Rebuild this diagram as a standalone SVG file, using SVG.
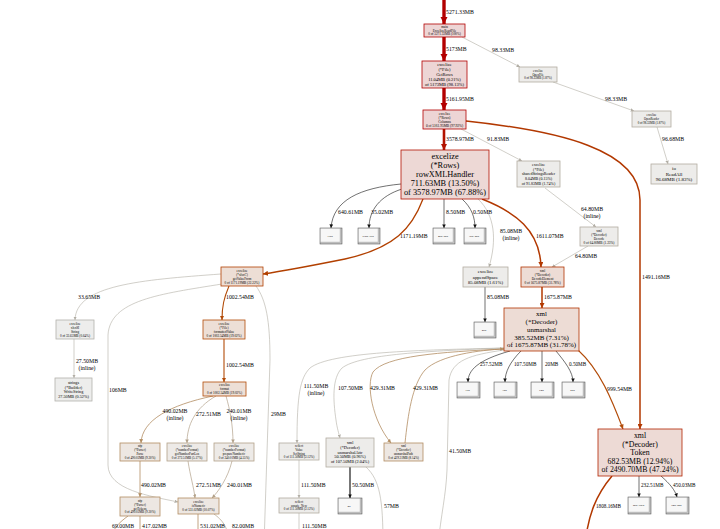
<svg xmlns="http://www.w3.org/2000/svg" width="720" height="529" viewBox="0 0 720 529">
<style>
text{font-family:"Liberation Serif","Times New Roman",serif;fill:#000}
.n text{text-anchor:middle}
.n rect{stroke-width:0.8}
.h0 rect{fill:#edd5d5;stroke:#b20000}
.h1 rect{fill:#edd8d5;stroke:#b21300}
.h2 rect{fill:#eddad5;stroke:#b22300}
.h3 rect{fill:#eddcd5;stroke:#b23400}
.h4 rect{fill:#edded5;stroke:#b24000}
.h5 rect{fill:#eddfd6;stroke:#b24b08}
.h6 rect{fill:#ede7e2;stroke:#b28d62}
.h7 rect{fill:#edeae7;stroke:#b2a189}
.h8 rect{fill:#edecea;stroke:#b2aca0}
.h9 rect{fill:#ededec;stroke:#b2b1ac}
.cube .o{fill:#c4c4c4;stroke:#444;stroke-width:0.5}
.cube .f{fill:#f7f7f7;stroke:#999;stroke-width:0.3}
.cube text{font-size:2.6px;text-anchor:middle}
.e path{fill:none}
.e0{stroke:#b20000;stroke-width:3.4;marker-end:url(#m0)}
.e1{stroke:#b21300;stroke-width:2.6;marker-end:url(#m1)}
.e2{stroke:#b23800;stroke-width:1.5;marker-end:url(#m2)}
.e3{stroke:#b24000;stroke-width:1.3;marker-end:url(#m3)}
.e4{stroke:#b24b08;stroke-width:1.1;marker-end:url(#m4)}
.e5{stroke:#b28d62;stroke-width:0.8;marker-end:url(#m5)}
.e6{stroke:#b2a189;stroke-width:0.7;marker-end:url(#m6)}
.e7{stroke:#b2aea5;stroke-width:0.6;marker-end:url(#m7)}
.e8{stroke:#111;stroke-width:0.6;marker-end:url(#m8)}
.e9{stroke:#777;stroke-width:2;marker-end:url(#m8)}
.l{font-size:5.8px}
.ls{font-size:5.2px}
.lc{text-anchor:middle}
</style>
<defs>
<marker id="m0" viewBox="0 0 10 10" refX="10" refY="5" markerWidth="7.5" markerHeight="7.5" markerUnits="userSpaceOnUse" orient="auto"><path d="M0,0L10,5L0,10z" fill="#b20000"/></marker>
<marker id="m1" viewBox="0 0 10 10" refX="10" refY="5" markerWidth="6.5" markerHeight="6.5" markerUnits="userSpaceOnUse" orient="auto"><path d="M0,0L10,5L0,10z" fill="#b21300"/></marker>
<marker id="m2" viewBox="0 0 10 10" refX="10" refY="5" markerWidth="5" markerHeight="5" markerUnits="userSpaceOnUse" orient="auto"><path d="M0,0L10,5L0,10z" fill="#b23800"/></marker>
<marker id="m3" viewBox="0 0 10 10" refX="10" refY="5" markerWidth="5" markerHeight="5" markerUnits="userSpaceOnUse" orient="auto"><path d="M0,0L10,5L0,10z" fill="#b24000"/></marker>
<marker id="m4" viewBox="0 0 10 10" refX="10" refY="5" markerWidth="4.5" markerHeight="4.5" markerUnits="userSpaceOnUse" orient="auto"><path d="M0,0L10,5L0,10z" fill="#b24b08"/></marker>
<marker id="m5" viewBox="0 0 10 10" refX="10" refY="5" markerWidth="3.8" markerHeight="3.8" markerUnits="userSpaceOnUse" orient="auto"><path d="M0,0L10,5L0,10z" fill="#b28d62"/></marker>
<marker id="m6" viewBox="0 0 10 10" refX="10" refY="5" markerWidth="3.6" markerHeight="3.6" markerUnits="userSpaceOnUse" orient="auto"><path d="M0,0L10,5L0,10z" fill="#b2a189"/></marker>
<marker id="m7" viewBox="0 0 10 10" refX="10" refY="5" markerWidth="3.4" markerHeight="3.4" markerUnits="userSpaceOnUse" orient="auto"><path d="M0,0L10,5L0,10z" fill="#b2aea5"/></marker>
<marker id="m8" viewBox="0 0 10 10" refX="10" refY="5" markerWidth="3.6" markerHeight="3.6" markerUnits="userSpaceOnUse" orient="auto"><path d="M0,0L10,5L0,10z" fill="#111"/></marker>
</defs>
<rect width="720" height="529" fill="#fff"/>

<g id="connectors" class="e">
<path class="e0" d="M444,-2V24"/>
<path class="e0" d="M444,37V61"/>
<path class="e0" d="M444,88V110"/>
<path class="e1" d="M444,129V150"/>
<path class="e7" d="M462,37L520,67"/>
<path class="e7" d="M553,82L634,111"/>
<path class="e7" d="M657,127L668,164"/>
<path class="e7" d="M461,129L522,161"/>
<path class="e2" d="M466,121C560,131 640,150 640,200L640,429"/>
<path class="e7" d="M545,188L596,227"/>
<path class="e7" d="M588,246L552,267"/>
<path class="e2" d="M482,199C515,212 540,230 541,267"/>
<path class="e7" d="M478,199C495,215 497,240 489,267"/>
<path class="e8" d="M485,287V322"/>
<path class="e2" d="M542,287V308"/>
<path class="e8" d="M401,184C360,188 333,200 331,228"/>
<path class="e8" d="M402,189C380,196 369,210 369,228"/>
<path class="e8" d="M444,199V228"/>
<path class="e8" d="M462,199C472,208 475,218 475,228"/>
<path class="e3" d="M423,199C412,228 395,248 345,259C310,266 290,270 263,274"/>
<path class="e4" d="M229,286C224,298 222,306 222,320"/>
<path class="e4" d="M224,339V382"/>
<path class="e7" d="M221,274C140,280 76,285 75,320"/>
<path class="e7" d="M74,339V378"/>
<path class="e7" d="M222,284C160,294 110,300 108,335L108,465C108,490 150,496 178,502"/>
<path class="e7" d="M256,286C266,300 270,320 270,360L264,545"/>
<path class="e5" d="M213,396C170,405 142,420 141,443"/>
<path class="e6" d="M216,396C195,408 187,425 187,443"/>
<path class="e6" d="M226,396C230,410 233,425 233,443"/>
<path class="e5" d="M140,461V497"/>
<path class="e6" d="M188,461C190,475 194,488 195,498"/>
<path class="e6" d="M232,461C228,478 218,492 212,498"/>
<path class="e5" d="M128,516C120,522 112,528 108,545"/>
<path class="e5" d="M140,516V545"/>
<path class="e5" d="M198,514V545"/>
<path class="e6" d="M214,514C222,520 228,526 230,545"/>
<path class="e7" d="M504,348C420,350 330,352 310,368C300,378 297,395 297,443"/>
<path class="e7" d="M504,348C430,351 360,354 342,368C332,378 333,400 336,420C337,428 339,434 340,438"/>
<path class="e5" d="M504,349C440,352 385,356 373,372C366,385 372,420 391,443"/>
<path class="e5" d="M405,443C408,415 412,385 425,370C440,355 480,350 504,349"/>
<path class="e7" d="M504,350C470,355 452,360 449,380L447,470C446,495 441,515 438,545"/>
<path class="e7" d="M299,460V498"/>
<path class="e9" d="M350,467V498"/>
<path class="e7" d="M366,467C380,480 383,500 383,545"/>
<path class="e7" d="M299,513V545"/>
<path class="e8" d="M510,351C478,360 468,370 468,382"/>
<path class="e8" d="M521,351C510,362 505,372 505,382"/>
<path class="e8" d="M542,351V382"/>
<path class="e8" d="M556,351C565,362 573,372 573,382"/>
<path class="e4" d="M578,350C600,370 612,400 623,429"/>
<path class="e8" d="M639,476V497"/>
<path class="e8" d="M661,476C670,484 675,490 677,497"/>
<path class="e2" d="M612,476C596,495 588,515 585,545"/>

<text class="l" x="446" y="14">5271.33MB</text>
<text class="l" x="446" y="51">5173MB</text>
<text class="l" x="446" y="101">5161.95MB</text>
<text class="l" x="446" y="141">3578.97MB</text>
<text class="l" x="492" y="52">98.33MB</text>
<text class="l" x="605" y="101">98.33MB</text>
<text class="l" x="662" y="141">96.68MB</text>
<text class="l" x="487" y="141">91.83MB</text>
<text class="l" x="642" y="279">1491.16MB</text>
<text class="l lc" x="592" y="211">64.80MB</text>
<text class="l lc" x="592" y="218">(inline)</text>
<text class="l" x="575" y="258">64.80MB</text>
<text class="l" x="536" y="238">1611.07MB</text>
<text class="l lc" x="511" y="233">85.08MB</text>
<text class="l lc" x="511" y="240">(inline)</text>
<text class="l" x="487" y="299">85.08MB</text>
<text class="l" x="544" y="299">1675.87MB</text>
<text class="l" x="338" y="214">640.61MB</text>
<text class="l" x="371" y="214">35.02MB</text>
<text class="l" x="446" y="214">8.50MB</text>
<text class="l" x="473" y="214">0.50MB</text>
<text class="l" x="400" y="238">1171.19MB</text>
<text class="l" x="226" y="299">1002.54MB</text>
<text class="l" x="226" y="367">1002.54MB</text>
<text class="l" x="78" y="299">33.65MB</text>
<text class="l lc" x="87" y="363">27.50MB</text>
<text class="l lc" x="87" y="370">(inline)</text>
<text class="l" x="109" y="392">106MB</text>
<text class="l" x="271" y="416">29MB</text>
<text class="l lc" x="175" y="413">490.02MB</text>
<text class="l lc" x="175" y="420">(inline)</text>
<text class="l" x="196" y="416">272.51MB</text>
<text class="l lc" x="239" y="413">240.01MB</text>
<text class="l lc" x="239" y="420">(inline)</text>
<text class="l" x="141" y="487">490.02MB</text>
<text class="l" x="196" y="487">272.51MB</text>
<text class="l" x="227" y="487">240.01MB</text>
<text class="l" x="112" y="528">69.00MB</text>
<text class="l" x="142" y="528">417.02MB</text>
<text class="l" x="200" y="528">531.02MB</text>
<text class="l" x="232" y="528">82.00MB</text>
<text class="l lc" x="316" y="388">111.50MB</text>
<text class="l lc" x="316" y="395">(inline)</text>
<text class="l" x="338" y="390">107.50MB</text>
<text class="l" x="370" y="390">429.31MB</text>
<text class="l" x="413" y="390">429.31MB</text>
<text class="l" x="449" y="453">41.50MB</text>
<text class="l" x="301" y="487">111.50MB</text>
<text class="l" x="352" y="487">50.50MB</text>
<text class="l" x="384" y="508">57MB</text>
<text class="l" x="302" y="528">111.50MB</text>
<text class="ls" x="480" y="366">257.52MB</text>
<text class="ls" x="514" y="366">107.50MB</text>
<text class="ls" x="545" y="366">20MB</text>
<text class="ls" x="569" y="366">0.50MB</text>
<text class="l" x="607" y="391">999.54MB</text>
<text class="ls" x="641" y="487">232.51MB</text>
<text class="ls" x="673" y="487">450.03MB</text>
<text class="ls" x="596" y="508">1808.16MB</text>
</g>

<g id="n-main" class="n h0" font-size="3.3"><rect x="424" y="24" width="41" height="13"/><text x="444.5" y="27.9">main</text><text x="444.5" y="31.6">ExcelizeReadFile</text><text x="444.5" y="35.3">0 of 5271.33MB (100%)</text></g>
<g id="n-getrows" class="n h0" font-size="4.5"><rect x="422" y="61" width="45" height="27"/><text x="444.5" y="66.2">excelize</text><text x="444.5" y="71.1">(*File)</text><text x="444.5" y="76">GetRows</text><text x="444.5" y="80.9">11.04MB (0.21%)</text><text x="444.5" y="85.8">of 5173MB (98.13%)</text></g>
<g id="n-columns" class="n h0" font-size="3.5"><rect x="423" y="110" width="43" height="19"/><text x="444.5" y="114.8">excelize</text><text x="444.5" y="118.7">(*Rows)</text><text x="444.5" y="122.6">Columns</text><text x="444.5" y="126.5">0 of 5161.95MB (97.92%)</text></g>
<g id="n-openfile" class="n h8" font-size="3"><rect x="519" y="67" width="38" height="15"/><text x="538" y="71.9">excelize</text><text x="538" y="75.6">OpenFile</text><text x="538" y="79.3">0 of 98.33MB (1.87%)</text></g>
<g id="n-openreader" class="n h8" font-size="3"><rect x="632" y="111" width="39" height="16"/><text x="651.5" y="116.4">excelize</text><text x="651.5" y="120.1">OpenReader</text><text x="651.5" y="123.8">0 of 98.33MB (1.87%)</text></g>
<g id="n-readall" class="n h8" font-size="5"><rect x="651" y="164" width="46" height="20"/><text x="674" y="170.1">io</text><text x="674" y="175.7">ReadAll</text><text x="674" y="181.3">96.68MB (1.83%)</text></g>
<g id="n-sharedstrings" class="n h8" font-size="4"><rect x="517" y="161" width="43" height="26"/><text x="538.5" y="166.2">excelize</text><text x="538.5" y="170.8">(*File)</text><text x="538.5" y="175.4">sharedStringsReader</text><text x="538.5" y="180">8.04MB (0.15%)</text><text x="538.5" y="184.6">of 91.83MB (1.74%)</text></g>
<g id="n-rowxml" class="n h1" font-size="8.3"><rect x="401" y="150" width="88" height="49"/><text x="445" y="159.2">excelize</text><text x="445" y="168.2">(*Rows)</text><text x="445" y="177.2">rowXMLHandler</text><text x="445" y="186.2">711.63MB (13.50%)</text><text x="445" y="195.2">of 3578.97MB (67.88%)</text></g>
<g id="n-decode" class="n h8" font-size="3.4"><rect x="580" y="227" width="38" height="19"/><text x="599" y="231.8">xml</text><text x="599" y="235.7">(*Decoder)</text><text x="599" y="239.6">Decode</text><text x="599" y="243.5">0 of 64.80MB (1.23%)</text></g>
<g id="n-decodeelement" class="n h3" font-size="3.4"><rect x="521" y="267" width="43" height="20"/><text x="542.5" y="272.3">xml</text><text x="542.5" y="276.2">(*Decoder)</text><text x="542.5" y="280.1">DecodeElement</text><text x="542.5" y="284">0 of 1675.87MB (31.78%)</text></g>
<g id="n-appendspace" class="n h8" font-size="4.8"><rect x="463" y="267" width="45" height="20"/><text x="485.5" y="273.3">excelize</text><text x="485.5" y="278.6">appendSpace</text><text x="485.5" y="283.9">85.08MB (1.61%)</text></g>
<g id="n-unmarshal" class="n h3" font-size="7"><rect x="504" y="308" width="75" height="43"/><text x="541.5" y="316.2">xml</text><text x="541.5" y="324">(*Decoder)</text><text x="541.5" y="331.8">unmarshal</text><text x="541.5" y="339.6">385.52MB (7.31%)</text><text x="541.5" y="347.4">of 1675.87MB (31.78%)</text></g>
<g id="n-token" class="n h2" font-size="7.8"><rect x="598" y="429" width="84" height="47"/><text x="640" y="437.9">xml</text><text x="640" y="446.5">(*Decoder)</text><text x="640" y="455.1">Token</text><text x="640" y="463.7">682.53MB (12.94%)</text><text x="640" y="472.3">of 2490.70MB (47.24%)</text></g>
<g id="n-getvalue" class="n h4" font-size="3.3"><rect x="221" y="267" width="42" height="19"/><text x="242" y="271.8">excelize</text><text x="242" y="275.7">(*xlsxC)</text><text x="242" y="279.6">getValueFrom</text><text x="242" y="283.5">0 of 1171.19MB (22.22%)</text></g>
<g id="n-formattedvalue" class="n h5" font-size="3.3"><rect x="203" y="320" width="42" height="19"/><text x="224" y="324.8">excelize</text><text x="224" y="328.7">(*File)</text><text x="224" y="332.6">formattedValue</text><text x="224" y="336.5">0 of 1002.54MB (19.02%)</text></g>
<g id="n-format" class="n h5" font-size="3.3"><rect x="203" y="382" width="43" height="14"/><text x="224.5" y="386.3">excelize</text><text x="224.5" y="390.2">format</text><text x="224.5" y="394.1">0 of 1002.54MB (19.02%)</text></g>
<g id="n-string" class="n h9" font-size="3.3"><rect x="56" y="320" width="38" height="19"/><text x="75" y="324.8">excelize</text><text x="75" y="328.7">xlsxSI</text><text x="75" y="332.6">String</text><text x="75" y="336.5">0 of 33.65MB (0.64%)</text></g>
<g id="n-writestring" class="n h9" font-size="4.2"><rect x="55" y="378" width="37" height="23"/><text x="73.5" y="383.9">strings</text><text x="73.5" y="388.6">(*Builder)</text><text x="73.5" y="393.3">WriteString</text><text x="73.5" y="398">27.50MB (0.52%)</text></g>
<g id="n-parse" class="n h6" font-size="3.2"><rect x="120" y="443" width="40" height="18"/><text x="140" y="447.4">nfp</text><text x="140" y="451.2">(*Parser)</text><text x="140" y="455">Parse</text><text x="140" y="458.8">0 of 490.02MB (9.30%)</text></g>
<g id="n-partlen" class="n h7" font-size="3.2"><rect x="167" y="443" width="40" height="18"/><text x="187" y="447.4">excelize</text><text x="187" y="451.2">(*numberFormat)</text><text x="187" y="455">getNumberPartLen</text><text x="187" y="458.8">0 of 272.51MB (5.17%)</text></g>
<g id="n-prepare" class="n h7" font-size="3.2"><rect x="214" y="443" width="40" height="18"/><text x="234" y="447.4">excelize</text><text x="234" y="451.2">(*numberFormat)</text><text x="234" y="455">prepareNumberic</text><text x="234" y="458.8">0 of 240.01MB (4.55%)</text></g>
<g id="n-gettokens" class="n h6" font-size="3.2"><rect x="120" y="497" width="40" height="19"/><text x="140" y="501.9">nfp</text><text x="140" y="505.7">(*Parser)</text><text x="140" y="509.5">getTokens</text><text x="140" y="513.3">0 of 490.02MB (9.30%)</text></g>
<g id="n-isnumeric" class="n h6" font-size="3.2"><rect x="178" y="498" width="41" height="16"/><text x="198.5" y="503.3">excelize</text><text x="198.5" y="507.1">isNumeric</text><text x="198.5" y="510.9">0 of 531.02MB (10.07%)</text></g>
<g id="n-setstring" class="n h8" font-size="3.2"><rect x="279" y="443" width="40" height="17"/><text x="299" y="446.9">reflect</text><text x="299" y="450.7">Value</text><text x="299" y="454.5">SetString</text><text x="299" y="458.3">0 of 111.50MB (2.12%)</text></g>
<g id="n-unsafenew" class="n h8" font-size="3.2"><rect x="279" y="498" width="40" height="15"/><text x="299" y="502.8">reflect</text><text x="299" y="506.6">unsafe_New</text><text x="299" y="510.4">0 of 111.50MB (2.12%)</text></g>
<g id="n-unmarshalattr" class="n h8" font-size="4.3"><rect x="326" y="438" width="48" height="29"/><text x="350" y="443.9">xml</text><text x="350" y="448.7">(*Decoder)</text><text x="350" y="453.5">unmarshalAttr</text><text x="350" y="458.3">50.50MB (0.96%)</text><text x="350" y="463.1">of 107.50MB (2.04%)</text></g>
<g id="n-unmarshalpath" class="n h6" font-size="3.2"><rect x="384" y="443" width="39" height="18"/><text x="403.5" y="447.4">xml</text><text x="403.5" y="451.2">(*Decoder)</text><text x="403.5" y="455">unmarshalPath</text><text x="403.5" y="458.8">0 of 429.31MB (8.14%)</text></g>

<g id="cubes">
<g id="c-r1" class="cube"><rect class="o" x="320" y="228" width="22" height="16"/><rect class="f" x="320.5" y="228.5" width="19.5" height="13.5"/><text x="330" y="236.5">17kB</text></g>
<g id="c-r2" class="cube"><rect class="o" x="358" y="228" width="22" height="16"/><rect class="f" x="358.5" y="228.5" width="19.5" height="13.5"/><text x="368" y="236.5">512B..1kB</text></g>
<g id="c-r3" class="cube"><rect class="o" x="433" y="228" width="22" height="16"/><rect class="f" x="433.5" y="228.5" width="19.5" height="13.5"/><text x="443" y="236.5">4kB..8kB</text></g>
<g id="c-r4" class="cube"><rect class="o" x="464" y="228" width="22" height="16"/><rect class="f" x="464.5" y="228.5" width="19.5" height="13.5"/><text x="474" y="236.5">1kB..2kB</text></g>
<g id="c-a1" class="cube"><rect class="o" x="474" y="322" width="22" height="16"/><rect class="f" x="474.5" y="322.5" width="19.5" height="13.5"/><text x="484" y="330.5">4kB</text></g>
<g id="c-u1" class="cube"><rect class="o" x="457" y="382" width="23" height="16"/><rect class="f" x="457.5" y="382.5" width="20.5" height="13.5"/><text x="467.5" y="390.5">16B</text></g>
<g id="c-u2" class="cube"><rect class="o" x="494" y="382" width="23" height="16"/><rect class="f" x="494.5" y="382.5" width="20.5" height="13.5"/><text x="504.5" y="390.5">32B</text></g>
<g id="c-u3" class="cube"><rect class="o" x="531" y="382" width="23" height="16"/><rect class="f" x="531.5" y="382.5" width="20.5" height="13.5"/><text x="541.5" y="390.5">64B</text></g>
<g id="c-u4" class="cube"><rect class="o" x="562" y="382" width="23" height="16"/><rect class="f" x="562.5" y="382.5" width="20.5" height="13.5"/><text x="572.5" y="390.5">2kB</text></g>
<g id="c-at" class="cube"><rect class="o" x="338" y="498" width="24" height="16"/><rect class="f" x="338.5" y="498.5" width="21.5" height="13.5"/><text x="349" y="506.5">4B</text></g>
<g id="c-t1" class="cube"><rect class="o" x="628" y="497" width="23" height="17"/><rect class="f" x="628.5" y="497.5" width="20.5" height="14.5"/><text x="638.5" y="506">2kB..16kB</text></g>
<g id="c-t2" class="cube"><rect class="o" x="666" y="497" width="23" height="17"/><rect class="f" x="666.5" y="497.5" width="20.5" height="14.5"/><text x="676.5" y="506">64B..80B</text></g>
</g>
</svg>
